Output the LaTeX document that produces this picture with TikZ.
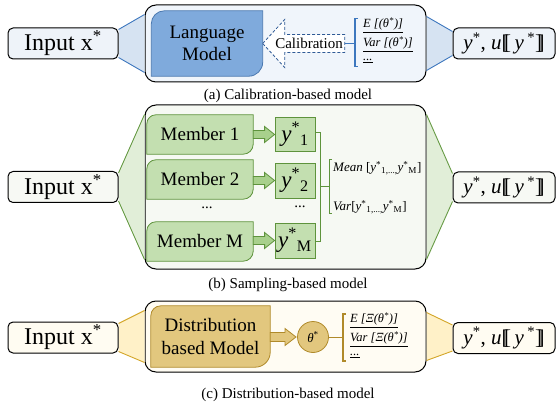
\documentclass[tikz,border=0pt]{standalone}
\usepackage{fontspec}
\setmainfont{Liberation Serif}
\usetikzlibrary{calc}
\pgfdeclarelayer{back}\pgfdeclarelayer{mid}\pgfsetlayers{back,mid,main}

\definecolor{bLM}{HTML}{7FAADC}
\definecolor{bLMd}{HTML}{4A78B0}
\definecolor{bBg}{HTML}{F0F5FB}
\definecolor{bConn}{HTML}{D6E3F2}
\definecolor{bLine}{HTML}{3D77BE}
\definecolor{bDash}{HTML}{2F5A96}
\definecolor{bIO}{HTML}{EEF3F9}
\definecolor{gM}{HTML}{C3DFB0}
\definecolor{gMd}{HTML}{5E933C}
\definecolor{gBg}{HTML}{F6F9F3}
\definecolor{gConn}{HTML}{E1EED8}
\definecolor{gLine}{HTML}{679B45}
\definecolor{gIO}{HTML}{F7F9F4}
\definecolor{gArr}{HTML}{A8D08C}
\definecolor{yM}{HTML}{E2C77E}
\definecolor{yMd}{HTML}{B08A2A}
\definecolor{yBg}{HTML}{FFFCF3}
\definecolor{yConn}{HTML}{FFF1C8}
\definecolor{yLine}{HTML}{D3A628}
\definecolor{yIO}{HTML}{FFFCF2}

\newcommand\leafshape[4]{% node, style, r top-left, r bottom-right
\begin{pgfonlayer}{mid}
\path[#2] (#1.south west) -- ([yshift=-#3]#1.north west)
 .. controls ([yshift=-0.45*#3]#1.north west) and ([xshift=0.45*#3]#1.north west) .. ([xshift=#3]#1.north west)
 -- (#1.north east) -- ([yshift=#4]#1.south east)
 .. controls ([yshift=0.45*#4]#1.south east) and ([xshift=-0.45*#4]#1.south east) .. ([xshift=-#4]#1.south east)
 -- cycle;
\end{pgfonlayer}}

\newcommand\blockarrow[6]{% style, from, to, shaft half, head half, head length
\path[#1] ($(#2)+(0,#4)$) -- ($(#3)+(-#6,#4)$) -- ($(#3)+(-#6,#5)$) -- (#3)
 -- ($(#3)+(-#6,-#5)$) -- ($(#3)+(-#6,-#4)$) -- ($(#2)+(0,-#4)$) -- cycle;}

\tikzset{
 iobox/.style={draw=black, line width=1pt, rounded corners=5pt, minimum width=110pt,
   minimum height=31pt, inner sep=0pt},
 iotxt/.style={font=\fontsize{24}{26}\selectfont},
 outtxt/.style={font=\fontsize{21}{24}\selectfont},
 bigbox/.style={draw=black, line width=1pt, rounded corners=11pt, inner sep=0pt},
 captxt/.style={font=\fontsize{15}{18}\selectfont, inner sep=0pt},
 leaftxt/.style={align=center, inner sep=0pt, font=\fontsize{19}{22.5}\selectfont},
 smalltxt/.style={anchor=west, inner sep=0pt, font=\fontsize{12.5}{14}\selectfont\itshape},
 ytxt/.style={draw=gMd, fill=gM, line width=0.8pt, minimum width=40pt, inner sep=0pt,
   font=\fontsize{23}{24}\selectfont},
}

\newcommand\dbl[1]{#1\kern-0.22em#1}

\begin{document}
\begin{tikzpicture}[x=1pt,y=-1pt]
\useasboundingbox (0,0) rectangle (556,403);

% ===================== (a) =====================
\node[iobox, fill=bIO, iotxt] (ina) at (63,43.5) {Input x\textsuperscript{*}};
\node[iobox, fill=bIO, outtxt, minimum width=102pt] (outa) at (504,43.5)
  {\textit{y}\textsuperscript{*}, \textit{u}\dbl{[}\,\textit{y}\,\textsuperscript{*}\dbl{]}};
\begin{pgfonlayer}{back}
\node[bigbox, fill=bBg, minimum width=281pt, minimum height=77pt] (biga) at (285.5,43.5) {};
\end{pgfonlayer}
\begin{pgfonlayer}{mid}
\path[fill=bConn] ($(ina.north east)+(0,2)$) -- ($(biga.north west)+(0,10)$)
  -- ($(biga.south west)+(0,-10)$) -- ($(ina.south east)+(0,-2)$) -- cycle;
\draw[bLine, line width=0.9pt] ($(ina.north east)+(0,2)$) -- ($(biga.north west)+(0,10)$);
\draw[bLine, line width=0.9pt] ($(ina.south east)+(0,-2)$) -- ($(biga.south west)+(0,-10)$);
\path[fill=bConn] ($(outa.north west)+(0,4)$) -- ($(biga.north east)+(0,12)$)
  -- ($(biga.south east)+(0,-12)$) -- ($(outa.south west)+(0,-4)$) -- cycle;
\draw[bLine, line width=0.9pt] ($(outa.north west)+(0,4)$) -- ($(biga.north east)+(0,12)$);
\draw[bLine, line width=0.9pt] ($(outa.south west)+(0,-4)$) -- ($(biga.south east)+(0,-12)$);
\end{pgfonlayer}

\node[leaftxt, minimum width=111pt, minimum height=65pt] (lm) at (207,43.5) {Language\\Model};
\leafshape{lm}{fill=bLM, draw=bLMd, line width=0.8pt}{13pt}{14pt}

\coordinate (calend) at (345,43.5);
\coordinate (bra) at (355,43.5);
\draw[bDash, dashed, dash pattern=on 3pt off 2pt, line width=0.8pt, fill=white]
  (lm.east) -- ++(22,-24) -- ++(0,15) -- ++(60,0) -- ++(0,18) -- ++(-60,0) -- ++(0,15) -- cycle;
\node[inner sep=0pt, font=\fontsize{15}{17}\selectfont] (cal) at (309,43.5) {Calibration};
\draw[bLine, line width=1pt] (calend) -- (bra);
\draw[bLine, line width=1.2pt] ($(bra)+(3,-25)$) -- ($(bra)+(0,-25)$) -- ($(bra)+(0,23)$) -- ($(bra)+(3,23)$);
\node[smalltxt] (ea) at (363,25) {\underline{E [(θ\textsuperscript{*})]}};
\node[smalltxt] (va) at (363,44) {\underline{Var [(θ\textsuperscript{*})]}};
\node[smalltxt] (da) at (363,61) {\underline{...}};
\node[captxt] (capa) at (288,96) {(a) Calibration-based model};

% ===================== (b) =====================
\node[iobox, fill=gIO, iotxt] (inb) at (63,187) {Input x\textsuperscript{*}};
\node[iobox, fill=gIO, outtxt, minimum width=102pt] (outb) at (504,187.5)
  {\textit{y}\textsuperscript{*}, \textit{u}\dbl{[}\,\textit{y}\,\textsuperscript{*}\dbl{]}};
\begin{pgfonlayer}{back}
\node[bigbox, fill=gBg, minimum width=281pt, minimum height=164pt] (bigb) at (285.5,187) {};
\end{pgfonlayer}
\begin{pgfonlayer}{mid}
\path[fill=gConn] ($(inb.north east)+(0,2)$) -- ($(bigb.north west)+(0,10)$)
  -- ($(bigb.south west)+(0,-10)$) -- ($(inb.south east)+(0,-2)$) -- cycle;
\draw[gLine, line width=0.9pt] ($(inb.north east)+(0,2)$) -- ($(bigb.north west)+(0,10)$);
\draw[gLine, line width=0.9pt] ($(inb.south east)+(0,-2)$) -- ($(bigb.south west)+(0,-10)$);
\path[fill=gConn] ($(outb.north west)+(0,2)$) -- ($(bigb.north east)+(0,10)$)
  -- ($(bigb.south east)+(0,-10)$) -- ($(outb.south west)+(0,-2)$) -- cycle;
\draw[gLine, line width=0.9pt] ($(outb.north west)+(0,2)$) -- ($(bigb.north east)+(0,10)$);
\draw[gLine, line width=0.9pt] ($(outb.south west)+(0,-2)$) -- ($(bigb.south east)+(0,-10)$);
\end{pgfonlayer}

\node[leaftxt, minimum width=106pt, minimum height=39pt] (m1) at (200,134.5) {Member 1};
\node[leaftxt, minimum width=106pt, minimum height=39pt] (m2) at (200,179.5) {Member 2};
\node[leaftxt, minimum width=106pt, minimum height=39pt] (mm) at (200,241.5) {Member M};
\leafshape{m1}{fill=gM, draw=gMd, line width=0.8pt}{9pt}{10pt}
\leafshape{m2}{fill=gM, draw=gMd, line width=0.8pt}{9pt}{10pt}
\leafshape{mm}{fill=gM, draw=gMd, line width=0.8pt}{9pt}{10pt}

\node[ytxt, minimum height=34pt] (y1) at (295,134.5) {\textit{y}\textsuperscript{*}\textsubscript{1}};
\node[ytxt, minimum height=35pt] (y2) at (295,180.5) {\textit{y}\textsuperscript{*}\textsubscript{2}};
\node[ytxt, minimum height=35pt] (ym) at (295,240.5) {\textit{y}\textsuperscript{*}\textsubscript{M}};

\blockarrow{fill=gArr, draw=gMd, line width=0.8pt}{m1.east |- y1.west}{y1.west}{4}{8}{10}
\blockarrow{fill=gArr, draw=gMd, line width=0.8pt}{m2.east |- y2.west}{y2.west}{4}{8}{10}
\blockarrow{fill=gArr, draw=gMd, line width=0.8pt}{mm.east |- ym.west}{ym.west}{4}{8}{10}

\node[inner sep=0pt, font=\fontsize{15}{17}\selectfont] (dm) at (207,208) {...};
\node[inner sep=0pt, font=\fontsize{15}{17}\selectfont] (dy) at (300,207) {...};

\coordinate (brb) at (320,187);
\coordinate (brc) at (329,187);
\draw[gMd, line width=1pt] ($(brb)+(-4,-54)$) -- ($(brb)+(0,-54)$) -- ($(brb)+(0,54)$) -- ($(brb)+(-4,54)$);
\draw[gMd, line width=1pt] (brb) -- (brc);
\draw[gMd, line width=1pt] ($(brc)+(3,-27)$) -- ($(brc)+(0,-27)$) -- ($(brc)+(0,27)$) -- ($(brc)+(3,27)$);
\node[anchor=west, inner sep=0pt, font=\fontsize{13}{15}\selectfont] (mean) at (333,168)
  {\textit{Mean} [\textit{y}\textsuperscript{*}\textsubscript{1,...,}\textit{y}\textsuperscript{*}\textsubscript{M}]};
\node[anchor=west, inner sep=0pt, font=\fontsize{13}{15}\selectfont] (var) at (333,207)
  {\textit{Var}[\textit{y}\textsuperscript{*}\textsubscript{1,...,}\textit{y}\textsuperscript{*}\textsubscript{M}]};
\node[captxt] (capb) at (288,285) {(b) Sampling-based model};

% ===================== (c) =====================
\node[iobox, fill=yIO, iotxt] (inc) at (63,337.5) {Input x\textsuperscript{*}};
\node[iobox, fill=yIO, outtxt, minimum width=102pt] (outc) at (504,338)
  {\textit{y}\textsuperscript{*}, \textit{u}\dbl{[}\,\textit{y}\,\textsuperscript{*}\dbl{]}};
\begin{pgfonlayer}{back}
\node[bigbox, fill=yBg, minimum width=281pt, minimum height=71pt] (bigc) at (285.5,336.5) {};
\end{pgfonlayer}
\begin{pgfonlayer}{mid}
\path[fill=yConn] ($(inc.north east)+(0,2)$) -- ($(bigc.north west)+(0,10)$)
  -- ($(bigc.south west)+(0,-10)$) -- ($(inc.south east)+(0,-2)$) -- cycle;
\draw[yLine, line width=0.9pt] ($(inc.north east)+(0,2)$) -- ($(bigc.north west)+(0,10)$);
\draw[yLine, line width=0.9pt] ($(inc.south east)+(0,-2)$) -- ($(bigc.south west)+(0,-10)$);
\path[fill=yConn] ($(outc.north west)+(0,3)$) -- ($(bigc.north east)+(0,12)$)
  -- ($(bigc.south east)+(0,-12)$) -- ($(outc.south west)+(0,-3)$) -- cycle;
\draw[yLine, line width=0.9pt] ($(outc.north west)+(0,3)$) -- ($(bigc.north east)+(0,12)$);
\draw[yLine, line width=0.9pt] ($(outc.south west)+(0,-3)$) -- ($(bigc.south east)+(0,-12)$);
\end{pgfonlayer}

\node[leaftxt, minimum width=119pt, minimum height=61pt] (dist) at (210.5,336.5) {Distribution\\based Model};
\leafshape{dist}{fill=yM, draw=yMd, line width=0.8pt}{10pt}{15pt}

\node[circle, fill=yM, draw=yMd, line width=0.8pt, minimum size=31pt, inner sep=0pt,
  font=\fontsize{13}{15}\selectfont] (th) at (313,337) {\textit{θ}\textsuperscript{*}};
\coordinate (thin) at (296,337);
\blockarrow{fill=yM, draw=yMd, line width=0.8pt}{dist.east |- thin}{thin}{4.5}{8.5}{11}

\coordinate (brd) at (343,337);
\draw[yMd, line width=1pt] (th.east) -- (brd);
\draw[yMd, line width=1.2pt] ($(brd)+(3,-23)$) -- ($(brd)+(0,-23)$) -- ($(brd)+(0,24)$) -- ($(brd)+(3,24)$);
\node[smalltxt] (ec) at (350,320) {\underline{E [Ξ(θ\textsuperscript{*})]}};
\node[smalltxt] (vc) at (350,339) {\underline{Var [Ξ(θ\textsuperscript{*})]}};
\node[smalltxt] (dc) at (350,356) {\underline{...}};
\node[captxt] (capc) at (288,395) {(c) Distribution-based model};
\end{tikzpicture}
\end{document}
